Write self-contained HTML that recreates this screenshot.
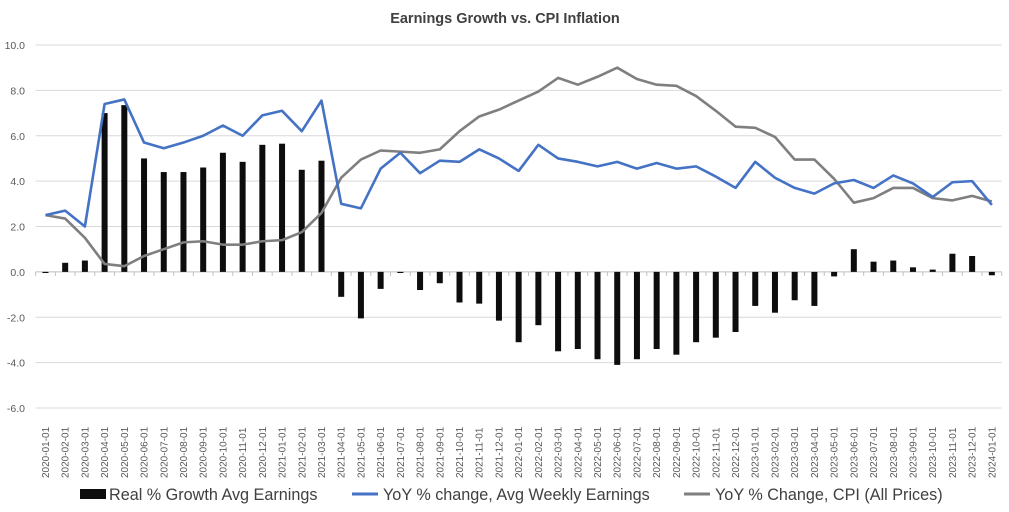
<!DOCTYPE html>
<html><head><meta charset="utf-8"><style>
body{margin:0;background:#fff;font-family:"Liberation Sans",sans-serif;}
svg text{font-family:"Liberation Sans",sans-serif;}
</style></head><body>
<svg id="chart" width="1009" height="507" xmlns="http://www.w3.org/2000/svg">
<rect width="1009" height="507" fill="#fff"/>
<text x="505" y="23" text-anchor="middle" font-size="14.5" font-weight="bold" fill="#404040">Earnings Growth vs. CPI Inflation</text>
<g id="grid"></g><g id="bars"></g><g id="lines"></g><g id="xlabels"></g>
<g>
<rect x="80" y="489" width="26" height="10" fill="#0d0d0d"/>
<text x="109" y="500" font-size="16.2" fill="#404040">Real % Growth Avg Earnings</text>
<line x1="352" y1="494" x2="378" y2="494" stroke="#4472c4" stroke-width="3"/>
<text x="383" y="500" font-size="16.2" fill="#404040">YoY % change, Avg Weekly Earnings</text>
<line x1="684" y1="494" x2="710" y2="494" stroke="#7f7f7f" stroke-width="3"/>
<text x="715" y="500" font-size="16.2" fill="#404040">YoY % Change, CPI (All Prices)</text>
</g>
</svg>
<script>
const realGrowth=[-0.05,0.4,0.5,7.0,7.35,5.0,4.4,4.4,4.6,5.25,4.85,5.6,5.65,4.5,4.9,-1.1,-2.05,-0.75,-0.05,-0.8,-0.5,-1.35,-1.4,-2.15,-3.1,-2.35,-3.5,-3.4,-3.85,-4.1,-3.85,-3.4,-3.65,-3.1,-2.9,-2.65,-1.5,-1.8,-1.25,-1.5,-0.2,1.0,0.45,0.5,0.2,0.1,0.8,0.7,-0.15];
const yoyEarnings=[2.5,2.7,2.0,7.4,7.6,5.7,5.45,5.7,6.0,6.45,6.0,6.9,7.1,6.2,7.55,3.0,2.8,4.55,5.25,4.35,4.9,4.85,5.4,5.0,4.45,5.6,5.0,4.85,4.65,4.85,4.55,4.8,4.55,4.65,4.2,3.7,4.85,4.15,3.7,3.45,3.9,4.05,3.7,4.25,3.9,3.3,3.95,4.0,2.95];
const yoyCpi=[2.5,2.35,1.5,0.35,0.25,0.7,1.0,1.3,1.35,1.2,1.2,1.35,1.4,1.75,2.6,4.15,4.95,5.35,5.3,5.25,5.4,6.2,6.85,7.15,7.55,7.95,8.55,8.25,8.6,9.0,8.5,8.25,8.2,7.75,7.1,6.4,6.35,5.95,4.95,4.95,4.1,3.05,3.25,3.7,3.7,3.25,3.15,3.35,3.1];
const yTicks=[10,8,6,4,2,0,-2,-4,-6];
const categories=[];
for(let y=2020;y<=2024;y++)for(let m=1;m<=12;m++){if(y===2024&&m>1)break;categories.push(y+'-'+String(m).padStart(2,'0')+'-01');}

const NS='http://www.w3.org/2000/svg';
const left=35.6,right=1001.7,yTop=45,yBot=408,vMax=10,vMin=-6;
const band=(right-left)/categories.length;
const xc=i=>left+band*(i+0.5);
const yv=v=>yTop+(vMax-v)*(yBot-yTop)/(vMax-vMin);
function mk(tag,attrs,parent){const e=document.createElementNS(NS,tag);for(const k in attrs)e.setAttribute(k,attrs[k]);parent.appendChild(e);return e;}
const grid=document.getElementById('grid');
yTicks.forEach(t=>{
  const l=mk('line',{x1:left,x2:right,y1:yv(t),y2:yv(t),stroke:t===0?'#bfbfbf':'#d9d9d9','stroke-width':1},grid);
  
  
  const tx=mk('text',{x:25,y:yv(t)+4,'text-anchor':'end','font-size':10.5,fill:'#595959'},grid);
  tx.textContent=t.toFixed(1);
  
  
});
for(let i=0;i<=categories.length;i++){
  const x=left+band*i;
  const tk=mk('line',{x1:x,x2:x,y1:yv(0),y2:yv(0)+4,stroke:'#bfbfbf'},grid);
  
  
}
const bars=document.getElementById('bars');
realGrowth.forEach((v,i)=>{
  const y0=yv(0),y1=yv(v);
  const r=mk('rect',{x:xc(i)-3,y:Math.min(y0,y1),width:6,height:Math.max(1,Math.abs(y1-y0)),fill:'#0d0d0d'},bars);
  
  
});
const lines=document.getElementById('lines');
function line(arr,color,name){
  const p=mk('polyline',{points:arr.map((v,i)=>xc(i)+','+yv(v)).join(' '),fill:'none',stroke:color,'stroke-width':2.6,'stroke-linejoin':'round'},lines);
  
  
}
line(yoyCpi,'#7f7f7f','line-cpi');
line(yoyEarnings,'#4472c4','line-yoy-earnings');
const xl=document.getElementById('xlabels');
categories.forEach((c,i)=>{
  const x=xc(i)+3.5,y=478;
  const t=mk('text',{x:x,y:y,transform:'rotate(-90 '+x+' '+y+')','font-size':10,fill:'#595959'},xl);
  t.textContent=c;
  
  
});
</script>
</body></html>
